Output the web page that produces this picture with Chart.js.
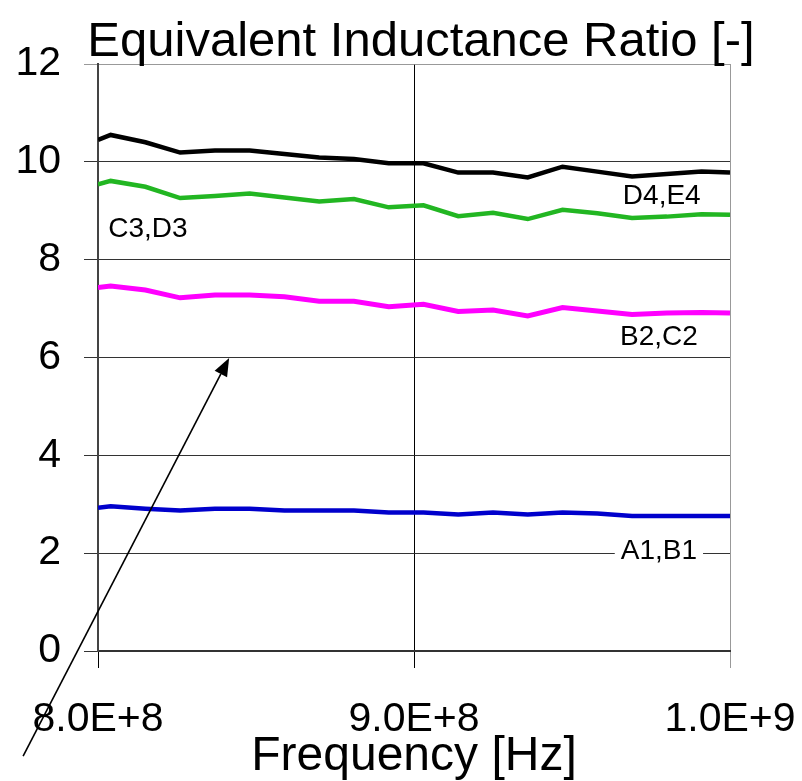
<!DOCTYPE html>
<html>
<head>
<meta charset="utf-8">
<script src="https://cdn.jsdelivr.net/npm/chart.js@4.4.1/dist/chart.umd.min.js"></script>
<style>
  html, body { margin: 0; padding: 0; background: #fff; }
  #wrap { width: 802px; height: 781px; }
</style>
</head>
<body>
<div id="wrap"><canvas id="ratio-chart" width="802" height="781"></canvas></div>
<script>
// frequency sweep, MHz
const freqMHz = [800, 804, 815, 826, 837, 848, 859, 870, 881, 892, 903, 914, 925, 936, 947, 958, 969, 980, 991, 1000];

const ratioD4E4 = [10.45, 10.55, 10.40, 10.19, 10.23, 10.23, 10.16, 10.09, 10.06, 9.97, 9.97, 9.78, 9.78, 9.68, 9.90, 9.80, 9.70, 9.75, 9.80, 9.78];
const ratioC3D3 = [9.54, 9.61, 9.49, 9.26, 9.30, 9.35, 9.27, 9.19, 9.24, 9.07, 9.11, 8.89, 8.96, 8.83, 9.02, 8.95, 8.85, 8.88, 8.93, 8.92];
const ratioB2C2 = [7.43, 7.46, 7.38, 7.22, 7.28, 7.28, 7.24, 7.15, 7.15, 7.04, 7.09, 6.94, 6.97, 6.85, 7.02, 6.95, 6.88, 6.91, 6.92, 6.91];
const ratioA1B1 = [2.93, 2.96, 2.91, 2.87, 2.91, 2.91, 2.87, 2.87, 2.87, 2.83, 2.83, 2.79, 2.83, 2.79, 2.83, 2.81, 2.76, 2.76, 2.76, 2.76];

const seriesNames = ["D4,E4", "C3,D3", "B2,C2", "A1,B1"];
const seriesColors = ["#000000", "#22b622", "#ff00ff", "#0000cc"];
const seriesWidths = [4.5, 4.5, 5, 4.5];

// label anchors in data units (MHz, ratio)
const labelFreq = [978.4, 815.8, 977.5, 977.5];
const labelRatio = [9.30, 8.63, 6.41, 2.04];

// arrow from outside the plot up into the gap between the pink and blue curves
const arrowTail = [776.3, -2.15];
const arrowHead = [841.5, 5.99];

const FONT = "'Liberation Sans', Arial, sans-serif";

const toPoints = (vals) => vals.map((v, i) => ({ x: freqMHz[i] * 1e6, y: v }));
const allSeries = [ratioD4E4, ratioC3D3, ratioB2C2, ratioA1B1];

const annotations = {
    id: "annotations",
    afterDraw(chart) {
        const ctx = chart.ctx;
        const xs = chart.scales.x;
        const ys = chart.scales.y;
        ctx.save();

        // chart title
        ctx.fillStyle = "#000";
        ctx.font = "49px " + FONT;
        ctx.textAlign = "center";
        ctx.textBaseline = "alphabetic";
        ctx.fillText("Equivalent Inductance Ratio [-]", 421, 56);

        // series labels
        ctx.font = "28px " + FONT;
        ctx.textBaseline = "middle";
        seriesNames.forEach((name, i) => {
            const px = xs.getPixelForValue(labelFreq[i] * 1e6);
            const py = ys.getPixelForValue(labelRatio[i]);
            const w = ctx.measureText(name).width;
            ctx.fillStyle = "#fff";
            ctx.fillRect(px - w / 2 - 6, py - 14, w + 12, 28);
            ctx.fillStyle = "#000";
            ctx.fillText(name, px, py);
        });

        // arrow
        const x0 = xs.getPixelForValue(arrowTail[0] * 1e6);
        const y0 = ys.getPixelForValue(arrowTail[1]);
        const x1 = xs.getPixelForValue(arrowHead[0] * 1e6);
        const y1 = ys.getPixelForValue(arrowHead[1]);
        const ang = Math.atan2(y1 - y0, x1 - x0);
        const headLen = 18, headHalf = 7;
        const bx = x1 - headLen * Math.cos(ang);
        const by = y1 - headLen * Math.sin(ang);
        ctx.strokeStyle = "#000";
        ctx.lineWidth = 1.6;
        ctx.beginPath();
        ctx.moveTo(x0, y0);
        ctx.lineTo(bx, by);
        ctx.stroke();
        ctx.fillStyle = "#000";
        ctx.beginPath();
        ctx.moveTo(x1, y1);
        ctx.lineTo(bx + headHalf * Math.sin(ang), by - headHalf * Math.cos(ang));
        ctx.lineTo(bx - headHalf * Math.sin(ang), by + headHalf * Math.cos(ang));
        ctx.closePath();
        ctx.fill();

        ctx.restore();
    },
};

document.addEventListener("DOMContentLoaded", () => {
    const ctx = document.getElementById("ratio-chart").getContext("2d");
    new Chart(ctx, {
        type: "line",
        data: {
            datasets: allSeries.map((vals, i) => ({
                label: seriesNames[i],
                data: toPoints(vals),
                borderColor: seriesColors[i],
                backgroundColor: seriesColors[i],
                borderWidth: seriesWidths[i],
                pointRadius: 0,
                tension: 0,
                fill: false,
            })),
        },
        options: {
            responsive: false,
            animation: false,
            layout: {
                padding: { top: 64, right: 72, bottom: 0, left: 0 },
            },
            plugins: {
                legend: { display: false },
                tooltip: { enabled: false },
                title: { display: false },
            },
            scales: {
                x: {
                    type: "linear",
                    min: 8e8,
                    max: 1e9,
                    afterFit: (scale) => {
                        scale.height = 130;
                        scale.paddingLeft = 0;
                        scale.paddingRight = 0;
                    },
                    ticks: {
                        stepSize: 1e8,
                        color: "#000",
                        padding: 27,
                        maxRotation: 0,
                        font: { family: FONT, size: 41 },
                        callback: (v) => Number(v).toExponential(1).toUpperCase(),
                    },
                    grid: {
                        color: (c) => (c.tick && c.tick.value === 1e9 ? "#999" : "#000"),
                        lineWidth: 1,
                        tickLength: 17,
                    },
                    border: { color: "#333", width: 2 },
                    title: {
                        display: true,
                        text: "Frequency [Hz]",
                        color: "#000",
                        font: { family: FONT, size: 48, lineHeight: 1.0 },
                        padding: { top: 0, bottom: 0 },
                    },
                },
                y: {
                    min: 0,
                    max: 12,
                    afterFit: (scale) => {
                        scale.width = 98;
                        scale.paddingTop = 0;
                        scale.paddingBottom = 0;
                    },
                    ticks: {
                        stepSize: 2,
                        color: "#000",
                        padding: 23,
                        font: { family: FONT, size: 41 },
                    },
                    grid: {
                        color: (c) => (c.tick && c.tick.value === 12 ? "#999" : "#333"),
                        lineWidth: 1,
                        tickLength: 14,
                    },
                    border: { color: "#444", width: 2 },
                },
            },
        },
        plugins: [annotations],
    });
});
</script>
</body>
</html>
